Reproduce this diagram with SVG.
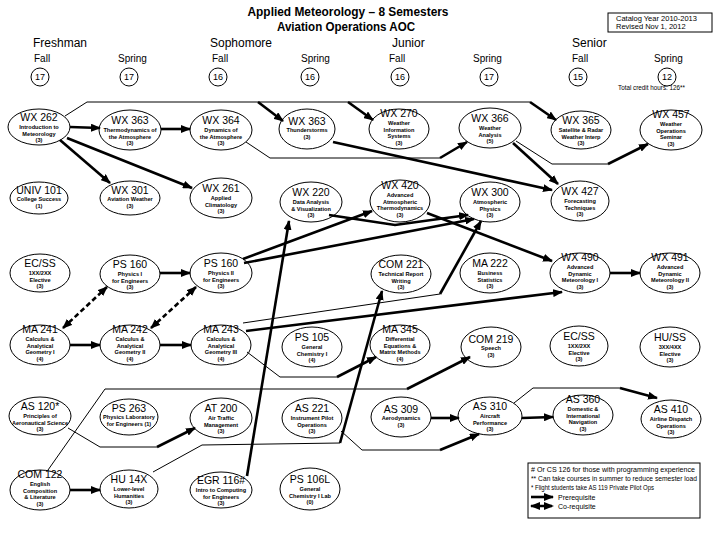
<svg xmlns="http://www.w3.org/2000/svg" width="720" height="540" viewBox="0 0 720 540">
<style>
text{font-family:"Liberation Sans",Arial,sans-serif;fill:#000}
.title{font-size:12.5px;font-weight:bold;text-anchor:middle}
.yr{font-size:12px}
.sem{font-size:10px}
.cr{font-size:9px;text-anchor:middle}
.small{font-size:7.5px}
.leg{font-size:7px}
.nd ellipse{fill:#fff;stroke:#000;stroke-width:1}
.nd text{text-anchor:middle}
.c{font-size:10.5px}
.d{font-size:5.6px;font-weight:bold}
.circ{fill:#fff;stroke:#000;stroke-width:1}
.tk{fill:none;stroke:#000;stroke-width:2.6;marker-end:url(#ah)}
.tn{fill:none;stroke:#000;stroke-width:1}
.ds{fill:none;stroke:#000;stroke-width:2.6;stroke-dasharray:5 3;marker-start:url(#ah2);marker-end:url(#ah2)}
</style>
<defs>
<marker id="ah" viewBox="0 0 10 8" refX="9" refY="4" markerWidth="10" markerHeight="8" markerUnits="userSpaceOnUse" orient="auto"><path d="M0,0 L10,4 L0,8 z" fill="#000"/></marker>
<marker id="ah2" viewBox="0 0 10 8" refX="9" refY="4" markerWidth="10" markerHeight="8" markerUnits="userSpaceOnUse" orient="auto-start-reverse"><path d="M0,0 L10,4 L0,8 z" fill="#000"/></marker>
</defs>
<rect width="720" height="540" fill="#fff"/>

<g id="header">
<text class="title" x="348" y="16" textLength="201" lengthAdjust="spacingAndGlyphs">Applied Meteorology – 8 Semesters</text>
<text class="title" x="346" y="31" textLength="138" lengthAdjust="spacingAndGlyphs">Aviation Operations AOC</text>
<rect x="608" y="13" width="104" height="19" fill="none" stroke="#000" stroke-width="1"/>
<text class="small" x="616" y="21">Catalog Year 2010-2013</text>
<text class="small" x="616" y="29">Revised Nov 1, 2012</text>
<text class="yr" x="33" y="47">Freshman</text>
<text class="yr" x="210" y="47">Sophomore</text>
<text class="yr" x="392" y="47">Junior</text>
<text class="yr" x="572" y="47">Senior</text>
<text class="sem" x="34" y="62">Fall</text>
<text class="sem" x="118" y="62">Spring</text>
<text class="sem" x="212" y="62">Fall</text>
<text class="sem" x="301" y="62">Spring</text>
<text class="sem" x="389" y="62">Fall</text>
<text class="sem" x="473" y="62">Spring</text>
<text class="sem" x="572" y="62">Fall</text>
<text class="sem" x="654" y="62">Spring</text>
<circle class="circ" cx="40" cy="77" r="9"/><text class="cr" x="40" y="80">17</text>
<circle class="circ" cx="129" cy="77" r="9"/><text class="cr" x="129" y="80">17</text>
<circle class="circ" cx="218" cy="77" r="9"/><text class="cr" x="218" y="80">16</text>
<circle class="circ" cx="310" cy="77" r="9"/><text class="cr" x="310" y="80">16</text>
<circle class="circ" cx="400" cy="77" r="9"/><text class="cr" x="400" y="80">16</text>
<circle class="circ" cx="489" cy="77" r="9"/><text class="cr" x="489" y="80">17</text>
<circle class="circ" cx="578" cy="77" r="9"/><text class="cr" x="578" y="80">15</text>
<circle class="circ" cx="667" cy="77" r="9"/><text class="cr" x="667" y="80">12</text>
<text class="leg" x="618" y="90" textLength="67" lengthAdjust="spacingAndGlyphs">Total credit hours: 126**</text>
</g>

<g id="nodes">
<g id="n_wx262" class="nd"><ellipse cx="39" cy="127" rx="31" ry="18"/><text class="c" x="39" y="121">WX 262</text><text class="d" x="39" y="129">Introduction to</text><text class="d" x="39" y="135.5">Meteorology</text><text class="d" x="39" y="142">(3)</text></g>
<g id="n_wx363a" class="nd"><ellipse cx="130" cy="130" rx="31" ry="20"/><text class="c" x="130" y="124">WX 363</text><text class="d" x="130" y="132">Thermodynamics of</text><text class="d" x="130" y="138.5">the Atmosphere</text><text class="d" x="130" y="145">(3)</text></g>
<g id="n_wx364" class="nd"><ellipse cx="221" cy="130" rx="31" ry="20"/><text class="c" x="221" y="124">WX 364</text><text class="d" x="221" y="132">Dynamics of</text><text class="d" x="221" y="138.5">the Atmosphere</text><text class="d" x="221" y="145">(3)</text></g>
<g id="n_wx363b" class="nd"><ellipse cx="307" cy="129" rx="28" ry="20"/><text class="c" x="307" y="125">WX 363</text><text class="d" x="307" y="132">Thunderstorms</text><text class="d" x="307" y="139">(3)</text></g>
<g id="n_wx270" class="nd"><ellipse cx="399" cy="129" rx="30" ry="20"/><text class="c" x="399" y="117">WX 270</text><text class="d" x="399" y="125">Weather</text><text class="d" x="399" y="131.5">Information</text><text class="d" x="399" y="138">Systems</text><text class="d" x="399" y="144.5">(3)</text></g>
<g id="n_wx366" class="nd"><ellipse cx="490" cy="128" rx="31" ry="20"/><text class="c" x="490" y="122">WX 366</text><text class="d" x="490" y="130">Weather</text><text class="d" x="490" y="136.5">Analysis</text><text class="d" x="490" y="143">(5)</text></g>
<g id="n_wx365" class="nd"><ellipse cx="581" cy="130" rx="30" ry="19"/><text class="c" x="581" y="124">WX 365</text><text class="d" x="581" y="132">Satellite &amp; Radar</text><text class="d" x="581" y="138.5">Weather Interp</text><text class="d" x="581" y="145">(3)</text></g>
<g id="n_wx457" class="nd"><ellipse cx="671" cy="130" rx="31" ry="20"/><text class="c" x="671" y="118">WX 457</text><text class="d" x="671" y="126">Weather</text><text class="d" x="671" y="132.5">Operations</text><text class="d" x="671" y="139">Seminar</text><text class="d" x="671" y="145.5">(3)</text></g>

<g id="n_univ101" class="nd"><ellipse cx="39" cy="198" rx="29" ry="16"/><text class="c" x="39" y="194">UNIV 101</text><text class="d" x="39" y="201">College Success</text><text class="d" x="39" y="208">(1)</text></g>
<g id="n_wx301" class="nd"><ellipse cx="130" cy="198" rx="30" ry="17"/><text class="c" x="130" y="194">WX 301</text><text class="d" x="130" y="201">Aviation Weather</text><text class="d" x="130" y="208">(3)</text></g>
<g id="n_wx261" class="nd"><ellipse cx="221" cy="198" rx="31" ry="20"/><text class="c" x="221" y="192">WX 261</text><text class="d" x="221" y="200">Applied</text><text class="d" x="221" y="206.5">Climatology</text><text class="d" x="221" y="213">(3)</text></g>
<g id="n_wx220" class="nd"><ellipse cx="311" cy="202" rx="31" ry="20"/><text class="c" x="311" y="196">WX 220</text><text class="d" x="311" y="204">Data Analysis</text><text class="d" x="311" y="210.5">&amp; Visualization</text><text class="d" x="311" y="217">(3)</text></g>
<g id="n_wx420" class="nd"><ellipse cx="400" cy="201" rx="30" ry="21"/><text class="c" x="400" y="189">WX 420</text><text class="d" x="400" y="197">Advanced</text><text class="d" x="400" y="203.5">Atmospheric</text><text class="d" x="400" y="210">Thermodynamics</text><text class="d" x="400" y="216.5">(3)</text></g>
<g id="n_wx300" class="nd"><ellipse cx="490" cy="202" rx="30" ry="20"/><text class="c" x="490" y="196">WX 300</text><text class="d" x="490" y="204">Atmospheric</text><text class="d" x="490" y="210.5">Physics</text><text class="d" x="490" y="217">(3)</text></g>
<g id="n_wx427" class="nd"><ellipse cx="580" cy="201" rx="29" ry="20"/><text class="c" x="580" y="195">WX 427</text><text class="d" x="580" y="203">Forecasting</text><text class="d" x="580" y="209.5">Techniques</text><text class="d" x="580" y="216">(3)</text></g>

<g id="n_ecss1" class="nd"><ellipse cx="40" cy="273" rx="30" ry="19"/><text class="c" x="40" y="267">EC/SS</text><text class="d" x="40" y="275">1XX/2XX</text><text class="d" x="40" y="281.5">Elective</text><text class="d" x="40" y="288">(3)</text></g>
<g id="n_ps160a" class="nd"><ellipse cx="130" cy="274" rx="30" ry="19"/><text class="c" x="130" y="268">PS 160</text><text class="d" x="130" y="276">Physics I</text><text class="d" x="130" y="282.5">for Engineers</text><text class="d" x="130" y="289">(3)</text></g>
<g id="n_ps160b" class="nd"><ellipse cx="221" cy="273" rx="31" ry="20"/><text class="c" x="221" y="267">PS 160</text><text class="d" x="221" y="275">Physics II</text><text class="d" x="221" y="281.5">for Engineers</text><text class="d" x="221" y="288">(3)</text></g>
<g id="n_com221" class="nd"><ellipse cx="401" cy="274" rx="30" ry="19"/><text class="c" x="401" y="268">COM 221</text><text class="d" x="401" y="276">Technical Report</text><text class="d" x="401" y="282.5">Writing</text><text class="d" x="401" y="289">(3)</text></g>
<g id="n_ma222" class="nd"><ellipse cx="490" cy="273" rx="30" ry="20"/><text class="c" x="490" y="267">MA 222</text><text class="d" x="490" y="275">Business</text><text class="d" x="490" y="281.5">Statistics</text><text class="d" x="490" y="288">(3)</text></g>
<g id="n_wx490" class="nd"><ellipse cx="580" cy="273" rx="30" ry="20"/><text class="c" x="580" y="261">WX 490</text><text class="d" x="580" y="269">Advanced</text><text class="d" x="580" y="275.5">Dynamic</text><text class="d" x="580" y="282">Meteorology I</text><text class="d" x="580" y="288.5">(3)</text></g>
<g id="n_wx491" class="nd"><ellipse cx="670" cy="273" rx="30" ry="20"/><text class="c" x="670" y="261">WX 491</text><text class="d" x="670" y="269">Advanced</text><text class="d" x="670" y="275.5">Dynamic</text><text class="d" x="670" y="282">Meteorology II</text><text class="d" x="670" y="288.5">(3)</text></g>

<g id="n_ma241" class="nd"><ellipse cx="40" cy="345" rx="30" ry="20"/><text class="c" x="40" y="333">MA 241</text><text class="d" x="40" y="341">Calculus &amp;</text><text class="d" x="40" y="347.5">Analytical</text><text class="d" x="40" y="354">Geometry I</text><text class="d" x="40" y="360.5">(4)</text></g>
<g id="n_ma242" class="nd"><ellipse cx="130" cy="345" rx="30" ry="20"/><text class="c" x="130" y="333">MA 242</text><text class="d" x="130" y="341">Calculus &amp;</text><text class="d" x="130" y="347.5">Analytical</text><text class="d" x="130" y="354">Geometry II</text><text class="d" x="130" y="360.5">(4)</text></g>
<g id="n_ma243" class="nd"><ellipse cx="221" cy="345" rx="30" ry="20"/><text class="c" x="221" y="333">MA 243</text><text class="d" x="221" y="341">Calculus &amp;</text><text class="d" x="221" y="347.5">Analytical</text><text class="d" x="221" y="354">Geometry III</text><text class="d" x="221" y="360.5">(4)</text></g>
<g id="n_ps105" class="nd"><ellipse cx="312" cy="347" rx="30" ry="20"/><text class="c" x="312" y="341">PS 105</text><text class="d" x="312" y="349">General</text><text class="d" x="312" y="355.5">Chemistry I</text><text class="d" x="312" y="362">(4)</text></g>
<g id="n_ma345" class="nd"><ellipse cx="400" cy="345" rx="30" ry="20"/><text class="c" x="400" y="333">MA 345</text><text class="d" x="400" y="341">Differential</text><text class="d" x="400" y="347.5">Equations &amp;</text><text class="d" x="400" y="354">Matrix Methods</text><text class="d" x="400" y="360.5">(4)</text></g>
<g id="n_com219" class="nd"><ellipse cx="491" cy="347" rx="30" ry="20"/><text class="c" x="491" y="343">COM 219</text><text class="d" x="491" y="350">Speech</text><text class="d" x="491" y="357">(3)</text></g>
<g id="n_ecss2" class="nd"><ellipse cx="579" cy="346" rx="29" ry="20"/><text class="c" x="579" y="340">EC/SS</text><text class="d" x="579" y="348">1XX/2XX</text><text class="d" x="579" y="354.5">Elective</text><text class="d" x="579" y="361">(3)</text></g>
<g id="n_huss" class="nd"><ellipse cx="670" cy="347" rx="30" ry="20"/><text class="c" x="670" y="341">HU/SS</text><text class="d" x="670" y="349">3XX/4XX</text><text class="d" x="670" y="355.5">Elective</text><text class="d" x="670" y="362">(3)</text></g>

<g id="n_as120" class="nd"><ellipse cx="40" cy="416" rx="31" ry="19"/><text class="c" x="40" y="410">AS 120*</text><text class="d" x="40" y="418">Principles of</text><text class="d" x="40" y="424.5" textLength="56" lengthAdjust="spacingAndGlyphs">Aeronautical Science</text><text class="d" x="40" y="431">(3)</text></g>
<g id="n_ps263" class="nd"><ellipse cx="129" cy="417" rx="29" ry="18"/><text class="c" x="129" y="412">PS 263</text><text class="d" x="129" y="419">Physics Laboratory</text><text class="d" x="129" y="426">for Engineers (1)</text></g>
<g id="n_at200" class="nd"><ellipse cx="221" cy="418" rx="31" ry="20"/><text class="c" x="221" y="412">AT 200</text><text class="d" x="221" y="420">Air Traffic</text><text class="d" x="221" y="426.5">Management</text><text class="d" x="221" y="433">(3)</text></g>
<g id="n_as221" class="nd"><ellipse cx="312" cy="418" rx="30" ry="20"/><text class="c" x="312" y="412">AS 221</text><text class="d" x="312" y="420">Instrument Pilot</text><text class="d" x="312" y="426.5">Operations</text><text class="d" x="312" y="433">(3)</text></g>
<g id="n_as309" class="nd"><ellipse cx="401" cy="417" rx="30" ry="20"/><text class="c" x="401" y="413">AS 309</text><text class="d" x="401" y="420">Aerodynamics</text><text class="d" x="401" y="427">(3)</text></g>
<g id="n_as310" class="nd"><ellipse cx="490" cy="416" rx="32" ry="19"/><text class="c" x="490" y="410">AS 310</text><text class="d" x="490" y="418">Aircraft</text><text class="d" x="490" y="424.5">Performance</text><text class="d" x="490" y="431">(3)</text></g>
<g id="n_as360" class="nd"><ellipse cx="583" cy="415" rx="30" ry="20"/><text class="c" x="583" y="403">AS 360</text><text class="d" x="583" y="411">Domestic &amp;</text><text class="d" x="583" y="417.5">International</text><text class="d" x="583" y="424">Navigation</text><text class="d" x="583" y="430.5">(3)</text></g>
<g id="n_as410" class="nd"><ellipse cx="671" cy="419" rx="30" ry="19"/><text class="c" x="671" y="413">AS 410</text><text class="d" x="671" y="421">Airline Dispatch</text><text class="d" x="671" y="427.5">Operations</text><text class="d" x="671" y="434">(3)</text></g>

<g id="n_com122" class="nd"><ellipse cx="40" cy="490" rx="30" ry="20"/><text class="c" x="40" y="478">COM 122</text><text class="d" x="40" y="486">English</text><text class="d" x="40" y="492.5">Composition</text><text class="d" x="40" y="499">&amp; Literature</text><text class="d" x="40" y="505.5">(3)</text></g>
<g id="n_hu14x" class="nd"><ellipse cx="129" cy="489" rx="29" ry="19"/><text class="c" x="129" y="483">HU 14X</text><text class="d" x="129" y="491">Lower-level</text><text class="d" x="129" y="497.5">Humanities</text><text class="d" x="129" y="504">(3)</text></g>
<g id="n_egr116" class="nd"><ellipse cx="221" cy="490" rx="31" ry="18"/><text class="c" x="221" y="484">EGR 116#</text><text class="d" x="221" y="492">Intro to Computing</text><text class="d" x="221" y="498.5">for Engineers</text><text class="d" x="221" y="505">(3)</text></g>
<g id="n_ps106l" class="nd"><ellipse cx="310" cy="489" rx="30" ry="21"/><text class="c" x="310" y="483">PS 106L</text><text class="d" x="310" y="491">General</text><text class="d" x="310" y="497.5">Chemistry I Lab</text><text class="d" x="310" y="504">(0)</text></g>
</g>

<g id="connectors">
<path class="tk" d="M70,127 L100,128"/>
<path class="tk" d="M161,129 L190,129"/>
<path class="tk" d="M60,140 L110,183"/>
<path class="tk" d="M67,138 L192,188"/>
<path class="tn" d="M65,116 L87,102 L530,102"/>
<path class="tk" d="M258,102 L283,121"/>
<path class="tk" d="M348,102 L373,120"/>
<path class="tk" d="M530,102 L556,120"/>
<path class="tn" d="M246,142 L270,158 L440,158"/>
<path class="tk" d="M440,158 L467,142"/>
<path class="tk" d="M333,142 L552,190"/>
<path class="tk" d="M513,143 L558,184"/>
<path class="tn" d="M516,141 L552,164 L608,164"/>
<path class="tk" d="M608,164 L648,144"/>
<path class="tk" d="M329,215 L395,225 L468,215"/>
<path class="tk" d="M243,259 L372,211"/>
<path class="tk" d="M244,263 L474,219"/>
<path class="tk" d="M427,213 L552,261"/>
<path class="tk" d="M247,476 L289,221"/>
<path class="tn" d="M153,472 L202,445 L340,443"/>
<path class="tk" d="M340,443 L382,291"/>
<path class="tk" d="M246,331 L562,292"/>
<path class="tn" d="M243,323 L440,294"/>
<path class="tk" d="M440,294 L481,221"/>
<path class="tn" d="M247,352 L280,377 L337,377"/>
<path class="tk" d="M337,377 L376,357"/>
<path class="tk" d="M70,345 L100,345"/>
<path class="tk" d="M160,345 L191,345"/>
<path class="tk" d="M160,273 L190,273"/>
<path class="ds" d="M63,328 L107,287"/>
<path class="ds" d="M151,328 L196,287"/>
<path class="tk" d="M610,273 L640,273"/>
<path class="tn" d="M68,428 L100,447 L157,447"/>
<path class="tk" d="M157,447 L195,428"/>
<path class="tn" d="M48,470 L105,389 L407,389"/>
<path class="tk" d="M407,389 L470,357"/>
<path class="tk" d="M70,490 L100,490"/>
<path class="tk" d="M431,418 L459,418"/>
<path class="tn" d="M341,431 L362,450 L440,450"/>
<path class="tk" d="M440,450 L479,434"/>
<path class="tk" d="M522,418 L553,417"/>
<path class="tn" d="M514,403 L533,388 L620,388"/>
<path class="tk" d="M620,388 L657,398"/>
</g>

<g id="legend">
<rect x="528" y="463" width="172" height="55" fill="#fff" stroke="#000" stroke-width="1"/>
<text class="leg" x="531" y="472" textLength="164" lengthAdjust="spacingAndGlyphs"># Or CS 126 for those with programming experience</text>
<text class="leg" x="531" y="481" textLength="166" lengthAdjust="spacingAndGlyphs">** Can take courses in summer to reduce semester load</text>
<text class="leg" x="531" y="490" textLength="123" lengthAdjust="spacingAndGlyphs">* Flight students take AS 119 Private Pilot Ops</text>
<path class="tk" d="M531,497 L553,497"/>
<text class="leg" x="558" y="499.5">Prerequisite</text>
<path class="ds" d="M531,506 L553,506"/>
<text class="leg" x="558" y="508.5">Co-requisite</text>
</g>
</svg>
